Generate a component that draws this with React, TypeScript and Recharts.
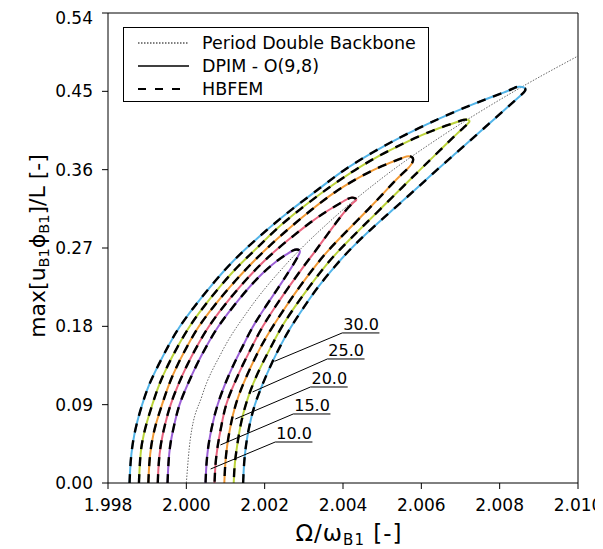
import React from 'react';
import { LineChart, Line, XAxis, YAxis, Legend, ReferenceLine, LabelList, Customized } from 'recharts';

// axis ticks
const X_TICKS = [1.998, 2.0, 2.002, 2.004, 2.006, 2.008, 2.01];
const Y_TICKS = [0, 0.09, 0.18, 0.27, 0.36, 0.45, 0.54];

// period double backbone [freq ratio, amplitude]
const backbone: [number, number][] = [
  [2.0, 0], [2.0001, 0.05], [2.0004, 0.1], [2.0009, 0.15], [2.00161, 0.2], [2.00252, 0.25],
  [2.00365, 0.3], [2.00499, 0.35], [2.00657, 0.4], [2.00837, 0.45], [2.01, 0.4906],
];

// response loops: left branch up, round the tip, right branch down
const loop10: [number, number][] = [
  [1.99952, 0], [1.99954, 0.022], [1.99958, 0.044], [1.99969, 0.067], [1.99981, 0.09], [2.00002, 0.112],
  [2.00025, 0.135], [2.00051, 0.157], [2.00079, 0.179], [2.00118, 0.202], [2.0016, 0.225], [2.00198, 0.243],
  [2.00233, 0.256], [2.00257, 0.263], [2.00273, 0.2678], [2.00283, 0.2686], [2.0029, 0.2673], [2.00291, 0.2655],
  [2.0028, 0.256], [2.00262, 0.243], [2.00236, 0.225], [2.00201, 0.202], [2.00168, 0.179], [2.00144, 0.157],
  [2.00119, 0.135], [2.00097, 0.112], [2.00079, 0.09], [2.00066, 0.067], [2.00056, 0.044], [2.00051, 0.022],
  [2.00049, 0],
];
const loop15: [number, number][] = [
  [1.99927, 0], [1.99929, 0.022], [1.99934, 0.044], [1.99945, 0.067], [1.99959, 0.09], [1.99978, 0.112],
  [2.00001, 0.135], [2.00027, 0.157], [2.00055, 0.179], [2.00093, 0.202], [2.00135, 0.225], [2.00186, 0.25],
  [2.00232, 0.269], [2.00276, 0.285], [2.00318, 0.3], [2.00357, 0.312], [2.00395, 0.322], [2.00414, 0.327],
  [2.00423, 0.3283], [2.00432, 0.3272], [2.00436, 0.3252], [2.00425, 0.322], [2.00404, 0.312], [2.00384, 0.3],
  [2.00359, 0.285], [2.00334, 0.269], [2.00301, 0.25], [2.00261, 0.225], [2.00226, 0.202], [2.00193, 0.179],
  [2.00168, 0.157], [2.00143, 0.135], [2.0012, 0.112], [2.001, 0.09], [2.0009, 0.067], [2.0008, 0.044],
  [2.00074, 0.022], [2.00072, 0],
];
const loop20: [number, number][] = [
  [1.99903, 0], [1.99905, 0.022], [1.9991, 0.044], [1.99921, 0.067], [1.99938, 0.09], [1.99954, 0.112],
  [1.99976, 0.135], [2.00002, 0.157], [2.00029, 0.179], [2.00068, 0.202], [2.0011, 0.225], [2.00161, 0.25],
  [2.00204, 0.269], [2.00255, 0.29], [2.00322, 0.315], [2.0038, 0.335], [2.00436, 0.35], [2.00478, 0.36],
  [2.00515, 0.367], [2.00541, 0.3717], [2.00556, 0.3743], [2.00567, 0.3757], [2.00577, 0.3747], [2.0058, 0.372],
  [2.00578, 0.3685], [2.00572, 0.3645], [2.00564, 0.3605], [2.00548, 0.354], [2.00528, 0.345], [2.00508, 0.335],
  [2.00466, 0.315], [2.00411, 0.29], [2.00365, 0.269], [2.0033, 0.25], [2.00288, 0.225], [2.00253, 0.202],
  [2.00219, 0.179], [2.0019, 0.157], [2.00166, 0.135], [2.00143, 0.112], [2.00125, 0.09], [2.00113, 0.067],
  [2.00104, 0.044], [2.00099, 0.022], [2.00097, 0],
];
const loop25: [number, number][] = [
  [1.99879, 0], [1.99881, 0.022], [1.99885, 0.044], [1.99897, 0.067], [1.99913, 0.09], [1.99929, 0.112],
  [1.99952, 0.135], [1.99978, 0.157], [2.00006, 0.179], [2.00043, 0.202], [2.00084, 0.225], [2.00133, 0.25],
  [2.00179, 0.269], [2.00224, 0.29], [2.00291, 0.315], [2.00365, 0.34], [2.00431, 0.36], [2.00487, 0.375],
  [2.00553, 0.39], [2.00602, 0.4], [2.00646, 0.408], [2.00683, 0.4135], [2.00702, 0.4165], [2.00712, 0.4179],
  [2.00722, 0.417], [2.00725, 0.4151], [2.00707, 0.408], [2.00688, 0.4], [2.00665, 0.39], [2.00631, 0.375],
  [2.00597, 0.36], [2.00552, 0.34], [2.00496, 0.315], [2.0044, 0.29], [2.00393, 0.269], [2.00355, 0.25],
  [2.00313, 0.225], [2.00276, 0.202], [2.00242, 0.179], [2.00217, 0.157], [2.00191, 0.135], [2.00168, 0.112],
  [2.00151, 0.09], [2.00138, 0.067], [2.0013, 0.044], [2.00123, 0.022], [2.00121, 0],
];
const loop30: [number, number][] = [
  [1.99855, 0], [1.99857, 0.022], [1.99862, 0.044], [1.99872, 0.067], [1.99887, 0.09], [1.99903, 0.112],
  [1.99928, 0.135], [1.99953, 0.157], [1.99981, 0.179], [2.00019, 0.202], [2.0006, 0.225], [2.00108, 0.25],
  [2.00151, 0.269], [2.00203, 0.29], [2.0027, 0.315], [2.00345, 0.34], [2.00402, 0.36], [2.00475, 0.38],
  [2.00557, 0.4], [2.00651, 0.42], [2.0073, 0.435], [2.00788, 0.445], [2.00825, 0.451], [2.00838, 0.4545],
  [2.0085, 0.4556], [2.00864, 0.4548], [2.00868, 0.451], [2.00853, 0.445], [2.00828, 0.435], [2.00791, 0.42],
  [2.00741, 0.4], [2.00691, 0.38], [2.0064, 0.36], [2.00592, 0.34], [2.0053, 0.315], [2.00467, 0.29],
  [2.00419, 0.269], [2.00381, 0.25], [2.00335, 0.225], [2.003, 0.202], [2.00266, 0.179], [2.00239, 0.157],
  [2.00215, 0.135], [2.00193, 0.112], [2.00174, 0.09], [2.00161, 0.067], [2.00152, 0.044], [2.00147, 0.022],
  [2.00145, 0],
];

// label callouts: [leader end on curve, underline start, underline end]
const calloutLabels = ['30.0', '25.0', '20.0', '15.0', '10.0'];
const calloutPoints: [number, number][][] = [
  [[2.00225, 0.1398], [2.00398, 0.1724], [2.00493, 0.1724]],
  [[2.00169, 0.1046], [2.0036, 0.1425], [2.00455, 0.1425]],
  [[2.00125, 0.0735], [2.00317, 0.1103], [2.00412, 0.1103]],
  [[2.00087, 0.0437], [2.00273, 0.0793], [2.00368, 0.0793]],
  [[2.00062, 0.0161], [2.00227, 0.0471], [2.00322, 0.0471]],
];

const LOOPS = [
  { name: '10.0', pts: loop10, color: '#9b5fd6' },
  { name: '15.0', pts: loop15, color: '#e8637e' },
  { name: '20.0', pts: loop20, color: '#f29a35' },
  { name: '25.0', pts: loop25, color: '#bcd43a' },
  { name: '30.0', pts: loop30, color: '#52b4e8' },
];

const FONT = 'DejaVu Sans, Verdana, sans-serif';

const toPts = (arr: [number, number][]) => arr.map(([x, y]) => ({ x, y }));

const renderCallout = (props: any) => {
  const { x, y, value } = props;
  if (!value) return null;
  return (
    <text x={x + 1} y={y - 3} fontFamily={FONT} fontSize={16} fill="#000">
      {value}
    </text>
  );
};

const legendRows = [
  { label: 'Period Double Backbone', dash: '1.5 1.5', width: 1 },
  { label: 'DPIM - O(9,8)', dash: undefined, width: 1.6 },
  { label: 'HBFEM', dash: '8 9', width: 2 },
];

const renderLegend = () => (
  <div
    style={{
      border: '1px solid #000',
      background: '#fff',
      width: 306,
      height: 75,
      boxSizing: 'border-box',
      paddingTop: 3,
      fontFamily: FONT,
      fontSize: 17.5,
      color: '#000',
    }}
  >
    {legendRows.map((r) => (
      <div key={r.label} style={{ display: 'flex', alignItems: 'center', height: 23 }}>
        <svg width={78} height={10} style={{ flex: 'none' }}>
          <line x1={14} x2={65} y1={5} y2={5} stroke="#000" strokeWidth={r.width} strokeDasharray={r.dash} />
        </svg>
        <span style={{ whiteSpace: 'nowrap' }}>{r.label}</span>
      </div>
    ))}
  </div>
);

const AxisTitles = () => (
  <g fontFamily={FONT} fill="#000">
    <text x={0} y={0} transform="translate(37,238) rotate(-90)" textAnchor="middle" fontSize={22}>
      max[u<tspan fontSize={14.5} dy={4}>B1</tspan>
      <tspan dy={-4}>ϕ</tspan>
      <tspan fontSize={14.5} dy={4}>B1</tspan>
      <tspan dy={-4}>]/L [-]</tspan>
    </text>
    <text x={341} y={533} textAnchor="middle" fontSize={23} letterSpacing={1}>
      Ω/ω<tspan fontSize={15} dy={4}>B1</tspan>
      <tspan dy={-4}> [-]</tspan>
    </text>
  </g>
);

const tickStyle = { fontFamily: FONT, fontSize: 17, fill: '#000' };

export default function App() {
  return (
    <LineChart width={595} height={541} margin={{ top: 5, right: 25, bottom: 0, left: 0 }}>
      <XAxis
        type="number"
        dataKey="x"
        domain={[1.998, 2.01]}
        ticks={X_TICKS}
        tickFormatter={(v: number) => v.toFixed(3)}
        allowDataOverflow
        height={66}
        stroke="#000"
        tick={tickStyle}
        tickSize={6}
        tickMargin={10}
      />
      <YAxis
        type="number"
        domain={[0, 0.54]}
        ticks={Y_TICKS}
        tickFormatter={(v: number) => v.toFixed(2)}
        allowDataOverflow
        width={100}
        stroke="#000"
        tick={tickStyle}
        tickSize={6}
        tickMargin={9}
      />
      <ReferenceLine y={0.54} stroke="#000" strokeWidth={1} />
      <ReferenceLine x={2.01} stroke="#000" strokeWidth={1} />

      <Line
        data={toPts(backbone)}
        dataKey="y"
        type="monotone"
        stroke="#666"
        strokeWidth={1}
        strokeDasharray="1.5 1.5"
        dot={false}
        isAnimationActive={false}
      />

      {LOOPS.map((l) => (
        <Line
          key={`c-${l.name}`}
          data={toPts(l.pts)}
          dataKey="y"
          type="basis"
          stroke={l.color}
          strokeWidth={2}
          dot={false}
          isAnimationActive={false}
        />
      ))}
      {LOOPS.map((l) => (
        <Line
          key={`d-${l.name}`}
          data={toPts(l.pts)}
          dataKey="y"
          type="basis"
          stroke="#000"
          strokeWidth={2.4}
          strokeDasharray="9 8"
          dot={false}
          isAnimationActive={false}
        />
      ))}

      {calloutPoints.map((pts, i) => (
        <Line
          key={`a-${i}`}
          data={pts.map(([x, y], j) => ({ x, y, label: j === 1 ? calloutLabels[i] : undefined }))}
          dataKey="y"
          type="linear"
          stroke="#000"
          strokeWidth={1}
          dot={false}
          isAnimationActive={false}
        >
          <LabelList dataKey="label" content={renderCallout} />
        </Line>
      ))}

      <Legend
        content={renderLegend}
        layout="horizontal"
        verticalAlign="middle"
        align="center"
        wrapperStyle={{ left: 115, top: 19, width: 306, height: 75 }}
      />
      <Customized component={AxisTitles} />
    </LineChart>
  );
}
